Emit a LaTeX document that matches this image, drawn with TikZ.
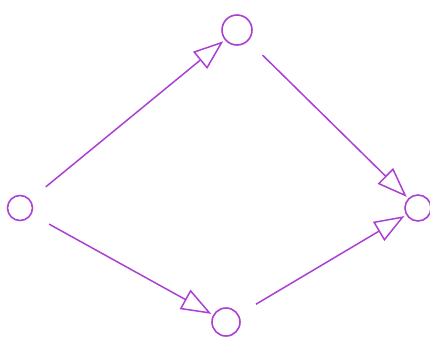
\documentclass[tikz,border=0pt]{standalone}
\usepackage{xcolor}
\usepackage{tikz}
\usetikzlibrary{arrows.meta, positioning}
\definecolor{sketch}{RGB}{170,65,210}

\begin{document}
\begin{tikzpicture}[
    x=1pt, y=-1pt,
    vertex/.style={circle, draw=sketch, line width=1.6pt, minimum size=28pt, inner sep=0pt},
    edge/.style={-{Triangle[open, length=30pt, width=22pt]}, draw=sketch, line width=1.5pt, shorten <=20pt, shorten >=2pt}
]
\useasboundingbox (0,0) rectangle (430,338);
\node [vertex, minimum size=30pt] (top) at (237,30) {};
\node [vertex, minimum size=25pt] (left) at (20,208) {};
\node [vertex, minimum size=26pt] (right) at (418,208) {};
\node [vertex] (bottom) at (226,322) {};

\draw [edge] (left) -- (top);
\draw [edge] (top) -- (right);
\draw [edge] (left) -- (bottom);
\draw [edge] (bottom) -- (right);
\end{tikzpicture}
\end{document}
